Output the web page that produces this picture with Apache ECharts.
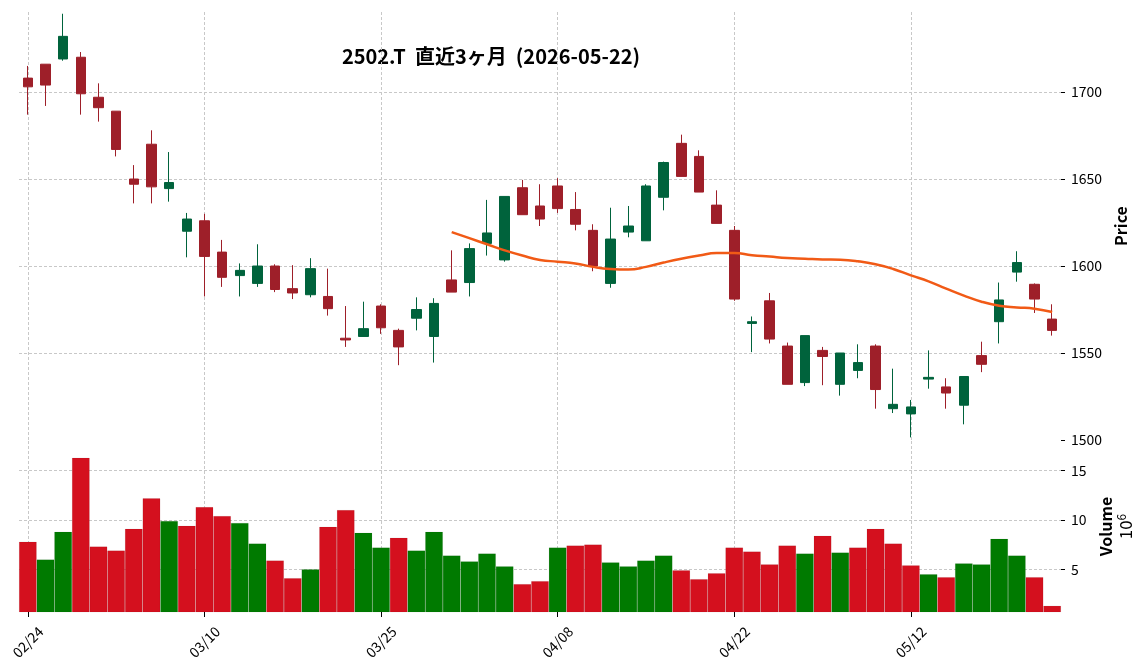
<!DOCTYPE html>
<html>
<head>
<meta charset="utf-8">
<title>2502.T</title>
<script src="https://cdn.jsdelivr.net/npm/echarts@6/dist/echarts.min.js"></script>
<style>
html, body { margin: 0; padding: 0; background: #fff; }
#main { width: 1144px; height: 670px; }
</style>
</head>
<body>
<div id="main"></div>
<script>
var dates = ["02/24","02/25","02/26","02/27","03/02","03/03","03/04","03/05","03/06","03/09",
    "03/10","03/11","03/12","03/13","03/16","03/17","03/18","03/19","03/23","03/24",
    "03/25","03/26","03/27","03/30","03/31","04/01","04/02","04/03","04/06","04/07",
    "04/08","04/09","04/10","04/13","04/14","04/15","04/16","04/17","04/20","04/21",
    "04/22","04/23","04/24","04/27","04/28","04/30","05/01","05/07","05/08","05/11",
    "05/12","05/13","05/14","05/15","05/18","05/19","05/20","05/21","05/22"];

var opens  = [1708,1716,1719,1720,1697,1689,1650,1670,1644.5,1620,
    1626,1608,1594.5,1590,1600,1587,1583.5,1582.5,1558.5,1559.5,
    1577,1563,1570,1559.5,1592,1590.5,1613,1603.5,1645,1634.5,
    1646,1632.5,1620.5,1590,1619.5,1614.5,1639.5,1670.5,1663,1635,
    1620.5,1567,1580,1554,1533,1551.5,1532,1540,1554,1518,
    1515,1535,1530.5,1520,1548.5,1568,1596.5,1589.5,1569.5];
var closes = [1703,1704,1732,1699,1691,1667,1647,1645.5,1648,1627,
    1605.5,1593.5,1597.5,1600,1586.5,1584.5,1598.5,1575.5,1557.5,1564,
    1564.5,1553.5,1575,1578.5,1585,1610,1619,1640,1629.5,1627,
    1633,1624,1600,1615.5,1623,1646,1659.5,1651.5,1642.5,1624.5,
    1581,1568,1558,1532,1560,1548,1550,1544.5,1529,1520.5,
    1519,1536,1527,1536.5,1543.5,1580.5,1602,1581,1563];
var lows   = [1687,1692,1718,1687,1683,1663,1636,1636,1637,1605,
    1582.5,1588,1582.5,1588,1585,1581,1582,1571.5,1553.5,1559.5,
    1561,1543,1563,1544.5,1585,1582.5,1606,1602.5,1629.5,1623,
    1630.5,1620.5,1597,1587.5,1616.5,1614.5,1632,1651.5,1642.5,1624.5,
    1580,1550.5,1555.5,1532,1531,1531.5,1525.5,1535.5,1518,1515.5,
    1501.5,1529.5,1518,1509,1539,1555.5,1591,1573,1560];
var highs  = [1715,1716,1745,1723,1705,1689,1658,1678,1665.5,1630.5,
    1630,1615,1601.5,1612.5,1601,1600.5,1604.5,1598.5,1577,1579.5,
    1578,1564,1582,1581.5,1609,1613,1638,1640,1649.5,1647,
    1650.5,1642.5,1624,1633.5,1634.5,1647,1660,1675.5,1666.5,1643.5,
    1623,1571,1584.5,1556,1560,1553.5,1550,1555,1555,1541,
    1523,1551.5,1535.5,1536.5,1556.5,1590.5,1608.5,1590,1578];

// 出来高 (百万株)
var volumes = [7.8,6.0,8.8,16.3,7.3,6.9,9.1,12.2,9.9,9.4,
    11.3,10.4,9.7,7.6,5.9,4.1,5.0,9.3,11.0,8.7,
    7.2,8.2,6.9,8.8,6.4,5.8,6.6,5.3,3.5,3.8,
    7.2,7.4,7.5,5.7,5.3,5.9,6.4,4.9,4.0,4.6,
    7.2,6.8,5.5,7.4,6.6,8.4,6.7,7.2,9.1,7.6,
    5.4,4.5,4.2,5.6,5.5,8.1,6.4,4.2,1.3];

// 25日移動平均
var ma25 = [null,null,null,null,null,null,null,null,null,null,
    null,null,null,null,null,null,null,null,null,null,
    null,null,null,null,1619.5,1616,1612.5,1609,1606,1603.5,
    1602.5,1601.5,1599.5,1598.3,1598,1599.5,1602,1604.2,1606,1607.5,
    1607.5,1606.2,1605.4,1604.6,1604.2,1603.8,1603.6,1602.7,1601,1598.3,
    1594.6,1591.2,1587,1583,1579.5,1577.2,1576.2,1575.5,1573.6];

var priceTicks = [1500, 1550, 1600, 1650, 1700];
var volTicks = [5, 10, 15];

var upColor = '#00633c', downColor = '#9e1f29';
var volUp = '#007a00', volDown = '#d4101e';
var gridLine = { color: '#c8c8c8', width: 1, type: [3, 2] };
var fontJP = 'Noto Sans CJK JP';

function buildCandles() {
    var list = [];
    for (var i = 0; i < dates.length; i++) {
        list.push([opens[i], closes[i], lows[i], highs[i]]);
    }
    return list;
}

function buildVolume() {
    var list = [];
    for (var i = 0; i < volumes.length; i++) {
        var up;
        if (i == 0) up = closes[i] >= opens[i];
        else up = closes[i] >= closes[i - 1];
        list.push({ value: volumes[i], itemStyle: { color: up ? volUp : volDown } });
    }
    return list;
}

var myChart = echarts.init(document.getElementById('main'));
var option = {
    animation: false,
    backgroundColor: '#fff',
    textStyle: { fontFamily: fontJP },
    graphic: [{
        type: 'text',
        x: 491,
        y: 56,
        style: {
            text: '2502.T  直近3ヶ月  (2026-05-22)',
            fontFamily: fontJP,
            fontSize: 20,
            fontWeight: 'bold',
            fill: '#000',
            align: 'center',
            verticalAlign: 'middle'
        }
    }],
    grid: [
        { left: 19, right: 83, top: 12, height: 428 },
        { left: 19, right: 83, top: 441, height: 171 }
    ],
    xAxis: [
        {
            type: 'category',
            gridIndex: 0,
            data: dates,
            boundaryGap: true,
            axisLine: { show: false },
            axisTick: { show: false },
            axisLabel: { show: false },
            splitLine: { show: true, interval: 9, alignWithLabel: true, lineStyle: gridLine }
        },
        {
            type: 'category',
            gridIndex: 1,
            data: dates,
            boundaryGap: true,
            axisLine: { show: false },
            axisTick: { show: true, interval: 9, alignWithLabel: true, length: 5, lineStyle: { color: '#000' } },
            axisLabel: {
                interval: 9,
                rotate: 45,
                align: 'center',
                verticalAlign: 'middle',
                margin: 30,
                fontSize: 14,
                color: '#000',
                fontFamily: fontJP
            },
            splitLine: { show: true, interval: 9, alignWithLabel: true, lineStyle: gridLine }
        }
    ],
    yAxis: [
        {
            type: 'value',
            gridIndex: 0,
            position: 'right',
            min: priceTicks[0],
            max: 1746,
            interval: 50,
            name: 'Price',
            nameLocation: 'middle',
            nameRotate: 90,
            nameGap: 44,
            nameTextStyle: { fontSize: 16, fontWeight: 'bold', color: '#000', fontFamily: fontJP },
            axisLine: { show: false },
            axisTick: { show: true, length: 4, lineStyle: { color: '#000' } },
            axisLabel: {
                margin: 10, fontSize: 14, color: '#000', fontFamily: fontJP, showMaxLabel: false,
                formatter: function (v) { return String(v); }
            },
            splitLine: { show: true, showMinLine: false, showMaxLine: false, lineStyle: gridLine }
        },
        {
            type: 'value',
            gridIndex: 1,
            position: 'right',
            min: 0.67,
            max: 18,
            name: '{v|Volume}\n{e|10}{s|6}',
            nameLocation: 'middle',
            nameRotate: 90,
            nameGap: 31,
            nameTextStyle: {
                color: '#000',
                rich: {
                    v: { fontSize: 16, fontWeight: 'bold', fontFamily: fontJP, lineHeight: 20, color: '#000' },
                    e: { fontSize: 17, fontFamily: fontJP, lineHeight: 20, color: '#000' },
                    s: { fontSize: 12, fontFamily: fontJP, lineHeight: 20, verticalAlign: 'top', color: '#000' }
                }
            },
            axisLine: { show: false },
            axisTick: { show: true, length: 4, customValues: volTicks, lineStyle: { color: '#000' } },
            axisLabel: { margin: 10, fontSize: 14, color: '#000', fontFamily: fontJP, customValues: volTicks },
            splitLine: { show: true, lineStyle: gridLine }
        }
    ],
    series: [
        {
            name: 'price',
            type: 'candlestick',
            xAxisIndex: 0,
            yAxisIndex: 0,
            barWidth: 10,
            data: buildCandles(),
            itemStyle: {
                color: upColor,
                color0: downColor,
                borderColor: upColor,
                borderColor0: downColor,
                borderWidth: 1
            }
        },
        {
            name: 'MA25',
            type: 'line',
            xAxisIndex: 0,
            yAxisIndex: 0,
            data: ma25,
            smooth: true,
            showSymbol: false,
            lineStyle: { color: '#f15a16', width: 2.5 }
        },
        {
            name: 'volume',
            type: 'bar',
            xAxisIndex: 1,
            yAxisIndex: 1,
            barWidth: '100%',
            barCategoryGap: '0%',
            data: buildVolume(),
            itemStyle: { borderColor: 'rgba(0,0,0,0.12)', borderWidth: 0.5 }
        }
    ]
};
myChart.setOption(option);
</script>
</body>
</html>
